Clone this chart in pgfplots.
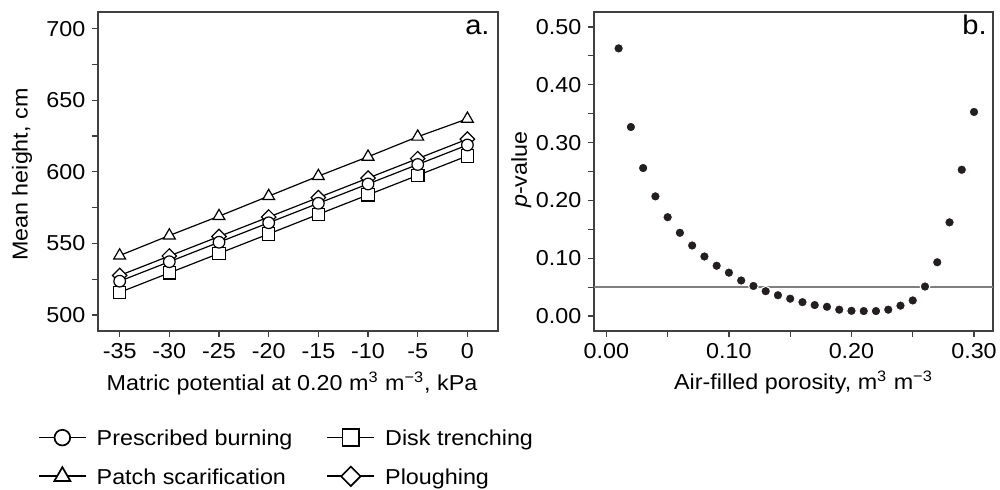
\documentclass[border=0pt]{standalone}
\usepackage{fontspec}
\setmainfont{Liberation Sans}[FakeStretch=1.08]
\usepackage{pgfplots}
\pgfplotsset{compat=1.18}
\definecolor{framec}{HTML}{404040}
\definecolor{dotc}{HTML}{231F20}
\definecolor{hlinec}{HTML}{7F7F7F}

\pgfplotstableread{
x pb dt ps pl
-35 523.6 515.8 541.5 527.6
-30 537.2 529.4 555.5 541.2
-25 550.8 543.0 569.0 554.8
-20 564.4 556.6 583.0 568.4
-15 578.0 570.3 597.0 582.0
-10 591.5 583.9 610.5 595.6
-5  605.1 597.5 624.5 609.2
0   618.7 611.1 637.0 622.8
}\heightdata

\pgfplotstableread{
x p
0.01 0.463
0.02 0.327
0.03 0.256
0.04 0.207
0.05 0.171
0.06 0.144
0.07 0.122
0.08 0.103
0.09 0.087
0.10 0.075
0.11 0.0615
0.12 0.052
0.13 0.043
0.14 0.036
0.15 0.030
0.16 0.024
0.17 0.019
0.18 0.016
0.19 0.011
0.20 0.009
0.21 0.0086
0.22 0.0086
0.23 0.011
0.24 0.018
0.25 0.027
0.26 0.051
0.27 0.093
0.28 0.162
0.29 0.253
0.30 0.353
}\pdata

\pgfplotsset{
  panel/.style={
    scale only axis, anchor=south west, height=159.5pt,
    axis line style={framec, line width=0.6pt},
    tick style={framec, line width=0.6pt},
    tick align=outside, tick pos=left,
    major tick length=2.8pt, minor tick length=2.8pt,
    font=\fontsize{10.8}{13}\selectfont,
    /pgf/number format/assume math mode=true,
  },
  ser/.style={black, line width=0.6pt, solid},
}

\begin{document}
\begin{tikzpicture}
\useasboundingbox (0,0) rectangle (500pt,244.5pt);

\begin{axis}[panel,
  at={(49pt,79pt)}, width=200pt,
  xmin=-37.18, xmax=3.08, ymin=488.8, ymax=711.6,
  xtick={-35,-30,-25,-20,-15,-10,-5,0},
  xticklabels={-35,-30,-25,-20,-15,-10,-5,0},
  ytick={500,550,600,650,700},
  minor y tick num=1,
  xlabel={Matric potential at 0.20 m\textsuperscript{3} m\textsuperscript{−3}, kPa},
  ylabel={Mean height, cm},
  xlabel style={at={(axis description cs:0.485,-0.163)}, anchor=center},
  ylabel style={at={(axis description cs:-0.19,0.49)}, anchor=center},
  legend columns=2, legend cell align=left,
  legend image code/.code={\draw[mark repeat=2,mark phase=2,#1,line width=0.85pt,every mark/.append style={scale=1.35}] plot coordinates {(0pt,0pt)(11.75pt,0pt)(23.5pt,0pt)};},
  legend style={draw=none, fill=none, inner sep=0pt, outer sep=0pt,
    at={(axis description cs:-0.15,-0.308)}, anchor=north west,
    font=\fontsize{10.8}{13}\selectfont,
    nodes={inner sep=0pt, text height=7.7pt, text depth=0pt},
    row sep=10.3pt,
    /tikz/every odd column/.append style={column sep=5pt},
    /tikz/every even column/.append style={column sep=17pt}},
]
\addplot[ser, forget plot, mark=square*, mark size=2.55pt, mark options={fill=white, rotate=45}] table[x=x, y=pl] {\heightdata};
\addplot[ser, forget plot, mark=square*, mark size=3.1pt, mark options={fill=white}] table[x=x, y=dt] {\heightdata};
\addplot[ser, forget plot, mark=triangle*, mark size=3.4pt, mark options={fill=white}] table[x=x, y=ps] {\heightdata};
\addplot[ser, forget plot, mark=*, mark size=2.9pt, mark options={fill=white}] table[x=x, y=pb] {\heightdata};

\addlegendimage{ser, mark=*, mark size=2.9pt, mark options={fill=white}}
\addlegendentry{Prescribed burning}
\addlegendimage{ser, mark=square*, mark size=3.1pt, mark options={fill=white}}
\addlegendentry{Disk trenching}
\addlegendimage{ser, mark=triangle*, mark size=3.4pt, mark options={fill=white}}
\addlegendentry{Patch scarification}
\addlegendimage{ser, mark=square*, mark size=2.55pt, mark options={fill=white, rotate=45}}
\addlegendentry{Ploughing}

\node[anchor=base east, font=\fontsize{13.5}{15}\selectfont, inner sep=0pt] at (axis description cs:0.98,0.931) {a.};
\end{axis}

\begin{axis}[panel,
  at={(297pt,79pt)}, width=199.5pt,
  xmin=-0.0101, xmax=0.3155, ymin=-0.0259, ymax=0.5259,
  xtick={0,0.1,0.2,0.3}, minor x tick num=1,
  ytick={0,0.1,0.2,0.3,0.4,0.5}, minor y tick num=1,
  xticklabel style={/pgf/number format/.cd, fixed, fixed zerofill, precision=2},
  yticklabel style={/pgf/number format/.cd, fixed, fixed zerofill, precision=2},
  xlabel={Air-filled porosity, m\textsuperscript{3} m\textsuperscript{−3}},
  ylabel={\textit{p}-value},
  xlabel style={at={(axis description cs:0.525,-0.16)}, anchor=center},
  ylabel style={at={(axis description cs:-0.182,0.506)}, anchor=center},
]
\addplot[hlinec, line width=1pt] coordinates {(-0.0101,0.05) (0.3155,0.05)};
\addplot[only marks, mark=*, mark size=2.4pt, mark options={fill=dotc, draw=white, line width=0.5pt}] table[x=x, y=p] {\pdata};
\node[anchor=base east, font=\fontsize{13.5}{15}\selectfont, inner sep=0pt] at (axis description cs:0.985,0.928) {b.};
\end{axis}
\end{tikzpicture}
\end{document}
